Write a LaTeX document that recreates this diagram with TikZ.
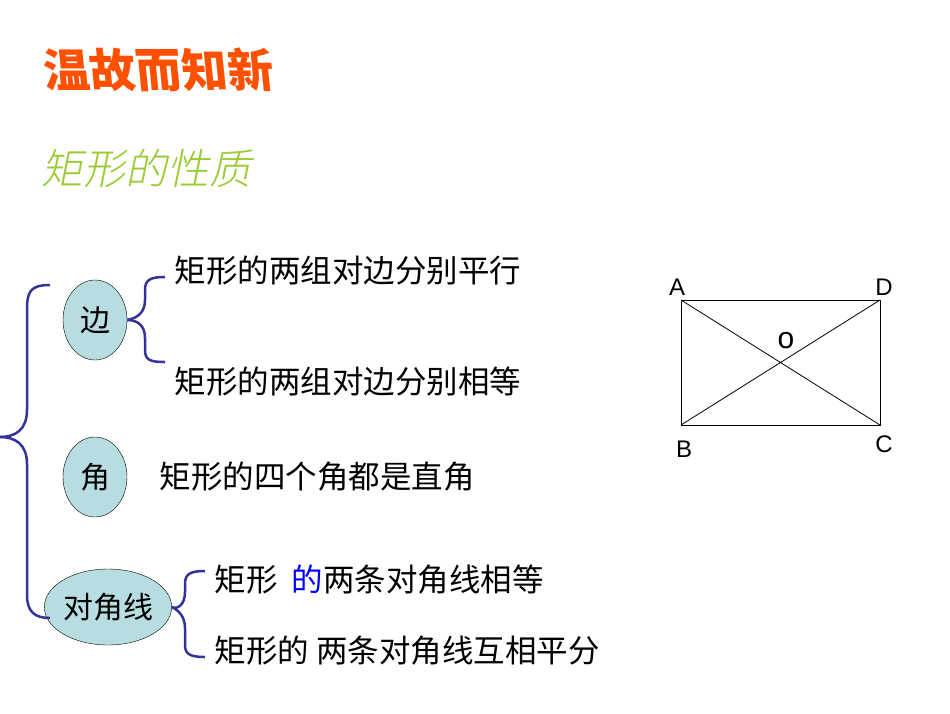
\documentclass[tikz,border=0pt]{standalone}
\usepackage{fontspec}
\setmainfont{Liberation Sans}
\newfontfamily\cjk{Noto Sans CJK SC}
\newfontfamily\cjkit[FakeSlant=0.2]{Noto Sans CJK SC Light}
\newfontfamily\cjkbk[FakeSlant=-0.1]{Noto Sans CJK SC Black}
\begin{document}
\begin{tikzpicture}[x=1pt,y=-1pt,
  br/.style={draw={rgb,255:red,51;green,51;blue,153},line width=2.5pt},
  ell/.style={ellipse,draw,fill={rgb,255:red,183;green,221;blue,224},inner sep=0pt},
  txt/.style={anchor=west,font=\cjk\fontsize{31.5}{31.5}\selectfont},
  lbl/.style={font=\fontsize{24}{24}\selectfont}]
\useasboundingbox (0,0) rectangle (950,713);
\usetikzlibrary{shapes.geometric}
\node[anchor=west,text={rgb,255:red,255;green,80;blue,0},font=\cjkbk\fontsize{46}{46}\selectfont] (title) at (42,70) {温故而知新};
\node[anchor=west,text={rgb,255:red,153;green,204;blue,51},font=\cjkit\fontsize{42}{42}\selectfont] (sub) at (38,168) {矩形的性质};
\node[ell,minimum width=64,minimum height=80,font=\cjk\fontsize{30}{30}\selectfont] (e1) at (95,320) {边};
\node[ell,minimum width=64,minimum height=80,font=\cjk\fontsize{30}{30}\selectfont] (e2) at (95,477) {角};
\node[ell,minimum width=120,minimum height=76,font=\cjk\fontsize{30}{30}\selectfont] (e3) at (108,607) {对角线};
\node[txt] (t1) at (171,271) {矩形的两组对边分别平行};
\node[txt] (t2) at (171,382) {矩形的两组对边分别相等};
\node[txt] (t3) at (156,477) {矩形的四个角都是直角};
\node[txt] (t4) at (211,580) {矩形\ \ \textcolor{blue}{的}两条对角线相等};
\node[txt] (t5) at (211,651) {矩形的\ 两条对角线互相平分};
% big brace
\draw[br] (50,285) .. controls (30,285) and (27,292) .. (27,310) -- (27,410) .. controls (27,430) and (15,437) .. (0,437);
\draw[br] (0,437) .. controls (15,437) and (27,444) .. (27,464) -- (27,595) .. controls (27,612) and (35,618) .. (50,618);
% brace 2
\draw[br] (e1.east) .. controls (138,318) and (145,312) .. (145,300) -- (145,290) .. controls (145,280) and (150,277) .. (165,277);
\draw[br] (e1.east) .. controls (138,320) and (145,326) .. (145,338) -- (145,350) .. controls (145,360) and (150,362) .. (165,362);
% brace 3
\draw[br] (e3.east) .. controls (178,610) and (185,604) .. (185,592) -- (185,584) .. controls (185,574) and (190,571) .. (205,571);
\draw[br] (e3.east) .. controls (178,610) and (185,616) .. (185,628) -- (185,645) .. controls (185,654) and (190,657) .. (205,657);
% rectangle
\coordinate (A) at (681,300); \coordinate (D) at (880,300);
\coordinate (B) at (681,425); \coordinate (C) at (880,425);
\draw[line width=0.8pt] (A) -- (D) -- (C) -- (B) -- cycle;
\draw[line width=0.8pt] (A) -- (C) (B) -- (D);
\node[lbl] (la) at (677,287) {A};
\node[lbl] (ld) at (884,287) {D};
\node[lbl] (lb) at (684,449) {B};
\node[lbl] (lc) at (884,444) {C};
\node[font=\fontsize{30}{30}\selectfont] (lo) at (786,341) {o};
\end{tikzpicture}
\end{document}
